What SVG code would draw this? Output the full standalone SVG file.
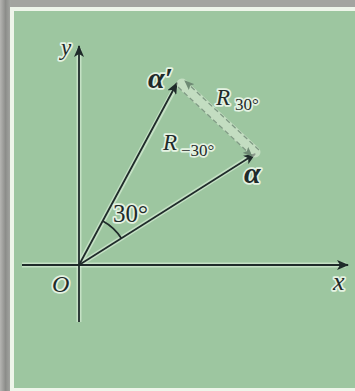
<svg xmlns="http://www.w3.org/2000/svg" width="355" height="391" viewBox="0 0 355 391">
<defs>
<marker id="ah" viewBox="0 0 12 10" refX="11" refY="5" markerWidth="12" markerHeight="10" markerUnits="userSpaceOnUse" orient="auto">
<path d="M0,0 L12,5 L0,10 L3,5 Z" fill="#1f2b2a"/>
</marker>
<marker id="gh" viewBox="0 0 10 8" refX="9" refY="4" markerWidth="10" markerHeight="8" markerUnits="userSpaceOnUse" orient="auto">
<path d="M0,0 L10,4 L0,8 L2,4 Z" fill="#6e8a74"/>
</marker>
<linearGradient id="lg" x1="0" y1="0" x2="1" y2="0">
<stop offset="0" stop-color="#b5b5b2"/><stop offset="0.5" stop-color="#8c8d8a"/><stop offset="1" stop-color="#a6a8a4"/>
</linearGradient>
</defs>
<style>
.ax{stroke:#1f2b2a;stroke-width:1.8;fill:none}
.halo{stroke:#d6ecd4;stroke-width:5;fill:none;opacity:0.7}
.dash{stroke:#7f9a84;stroke-width:1.3;stroke-dasharray:5 3;fill:none}
text{font-family:"Liberation Serif","Times New Roman",serif;fill:#1f2b2a;stroke:#e4f2e2;stroke-width:3.5;paint-order:stroke;stroke-linejoin:round}
.it{font-style:italic}
.b{font-weight:bold;font-style:italic}
</style>
<rect x="0" y="0" width="355" height="391" fill="#a3a4a0"/>
<rect x="0" y="0" width="11" height="391" fill="url(#lg)"/>
<rect x="10" y="7" width="345" height="384" fill="#eef5ea"/>
<rect x="14" y="11" width="341" height="377" fill="#9dc6a0"/>
<g id="connectors">
<line class="halo" x1="22" y1="265" x2="346" y2="265"/>
<line class="halo" x1="79" y1="322" x2="79" y2="49"/>
<line class="halo" x1="79" y1="265" x2="253" y2="155"/>
<line class="halo" x1="79" y1="265" x2="176" y2="86"/>
<line class="ax" x1="22" y1="265" x2="348" y2="265" marker-end="url(#ah)"/>
<line class="ax" x1="79" y1="322" x2="79" y2="46" marker-end="url(#ah)"/>
<line class="ax" x1="79" y1="265" x2="255" y2="154" marker-end="url(#ah)"/>
<line class="ax" x1="79" y1="265" x2="177" y2="83" marker-end="url(#ah)"/>
<path class="ax" d="M102.7,221.0 A50,50 0 0 1 121.3,238.3" stroke-width="1.4"/>
<line x1="182" y1="84" x2="255" y2="152" stroke="#e2f0dc" stroke-width="11" opacity="0.55" stroke-linecap="round"/>
<line class="dash" x1="259" y1="150" x2="185" y2="81" marker-end="url(#gh)"/>
<line class="dash" x1="178" y1="87" x2="252" y2="156" marker-end="url(#gh)"/>
</g>
<g id="label-y"><text class="it" x="61" y="55" font-size="23">y</text></g>
<g id="label-alpha-prime"><text class="b" x="148" y="88" font-size="30">α′</text></g>
<g id="label-R30"><text class="it" x="216" y="105" font-size="23">R</text><text x="235" y="110" font-size="17">30°</text></g>
<g id="label-Rm30"><text class="it" x="163" y="150" font-size="23">R</text><text x="181" y="156" font-size="17">−30°</text></g>
<g id="label-alpha"><text class="b" x="244" y="183" font-size="30">α</text></g>
<g id="label-angle"><text x="113" y="222" font-size="25">30°</text></g>
<g id="label-O"><text class="it" x="52" y="292" font-size="24">O</text></g>
<g id="label-x"><text class="it" x="333" y="290" font-size="26">x</text></g>
</svg>
